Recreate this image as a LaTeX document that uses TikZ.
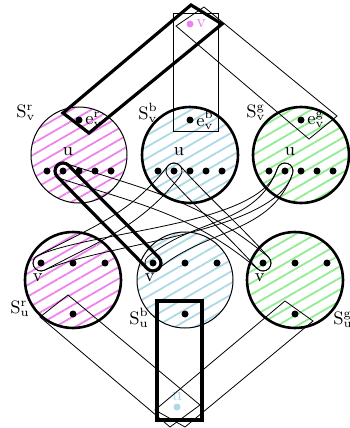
\documentclass[tikz,border=0pt]{standalone}
\usepackage{amsmath}
\usepackage{xcolor}
\usepackage{tikz}
\usetikzlibrary{calc,patterns.meta}

\definecolor{rcol}{RGB}{238,130,238}
\definecolor{bcol}{RGB}{173,216,230}
\definecolor{gcol}{RGB}{144,238,144}

% closed loop round two dots: [style]{from}{to}{out}{in}
\newcommand\hedge[5][]{%
  \draw[#1] ($(#2)+(#4+90:4pt)$) to[out=#4,in=#5] ($(#3)+(#5-90:4pt)$)
    arc[start angle=#5-90, delta angle=-180, radius=4pt]
    to[out=#5,in=#4] ($(#2)+(#4-90:4pt)$)
    arc[start angle=#4-90, delta angle=-180, radius=4pt] -- cycle;}

\begin{document}
\begin{tikzpicture}[
  x=0.5pt, y=0.5pt,
  font=\small,
  set/.style={circle, draw, minimum size=48pt, inner sep=0pt, line width=0.5pt},
  bold/.style={line width=1.3pt},
  hatch/.style={pattern={Lines[angle=30, distance=5pt, line width=0.9pt]},
                pattern color=#1},
  dot/.style={circle, fill, inner sep=0pt, minimum size=3.5pt},
  lbl/.style={inner sep=1pt},
]
\useasboundingbox (0,0) rectangle (349,-428);
% sets S_v (top row)
\node[set, hatch=rcol] (svr) at (79,-155) {};
\node[set, hatch=bcol, bold] (svb) at (190,-155) {};
\node[set, hatch=gcol, bold] (svg) at (301,-155) {};
% sets S_u (bottom row)
\node[set, hatch=rcol, bold] (sur) at (73,-280) {};
\node[set, hatch=bcol] (sub) at (185,-280) {};
\node[set, hatch=gcol, bold] (sug) at (295,-280) {};
% set names
\node (lsvr) at (26,-113) {$\mathrm{S}^{\mathrm{r}}_{\mathrm{v}}$};
\node (lsvb) at (148,-113) {$\mathrm{S}^{\mathrm{b}}_{\mathrm{v}}$};
\node (lsvg) at (256,-113) {$\mathrm{S}^{\mathrm{g}}_{\mathrm{v}}$};
\node (lsur) at (20,-309) {$\mathrm{S}^{\mathrm{r}}_{\mathrm{u}}$};
\node (lsub) at (139,-318) {$\mathrm{S}^{\mathrm{b}}_{\mathrm{u}}$};
\node (lsug) at (343,-320) {$\mathrm{S}^{\mathrm{g}}_{\mathrm{u}}$};
% dots inside the top sets
\foreach \col in {r,b,g} {
  \foreach \i/\dx in {1/-32,2/-16,3/0,4/16,5/32}
    \node[dot] (sv\col-\i) at ($(sv\col)+(\dx,-16)$) {};
  \node[dot] (ev\col) at ($(sv\col)+(0,35)$) {};
  \node[lbl, right] (lev\col) at (ev\col.east)
    {$\mathrm{e}^{\mathrm{\col}}_{\mathrm{v}}$};
  \node[lbl] (lu\col) at ($(sv\col-2)+(5,19)$) {$\mathrm{u}$};
}
% dots inside the bottom sets
\foreach \col in {r,b,g} {
  \foreach \i/\dx in {1/-32,2/0,3/32}
    \node[dot] (su\col-\i) at ($(su\col)+(\dx,17)$) {};
  \node[dot] (eu\col) at ($(su\col)+(0,-34)$) {};
  \node[lbl] (lv\col) at ($(su\col-1)+(-3,-15)$) {$\mathrm{v}$};
}
% the two outer vertices
\node[dot, rcol] (v) at (190,-24) {};
\node[lbl, right, rcol] (lv) at (v.east) {$\mathrm{v}$};
\node[dot, bcol] (u) at (177,-407) {};
\node[lbl, above, bcol] (lu) at (u.north) {$\mathrm{u}$};
% edges v -- e_v
\draw[ultra thick] (63,-113) -- (191,-5) -- (222,-24) -- (89,-133) -- cycle;
\draw (173,-13) rectangle (218,-131);
\draw (204,-7) -- (337,-116) -- (309,-139) -- (176,-26) -- cycle;
% edges u -- e_u
\draw[ultra thick] (157,-301) rectangle (202,-420);
\draw (68,-295) -- (40,-317) -- (170,-427) -- (200,-405) -- cycle;
\draw (285,-301) -- (313,-321) -- (185,-427) -- (155,-410) -- cycle;
% edges between the rows
\hedge[ultra thick]{svr-2}{sub-1}{-46}{134}
\hedge{svr-2}{sug-1}{-18}{140}
\hedge{svb-2}{sur-1}{232}{28}
\hedge{svb-2}{sug-1}{-48}{132}
\hedge[looseness=0.6]{svg-2}{sur-1}{254}{25}
\hedge{svg-2}{sub-1}{250}{40}
\end{tikzpicture}
\end{document}
